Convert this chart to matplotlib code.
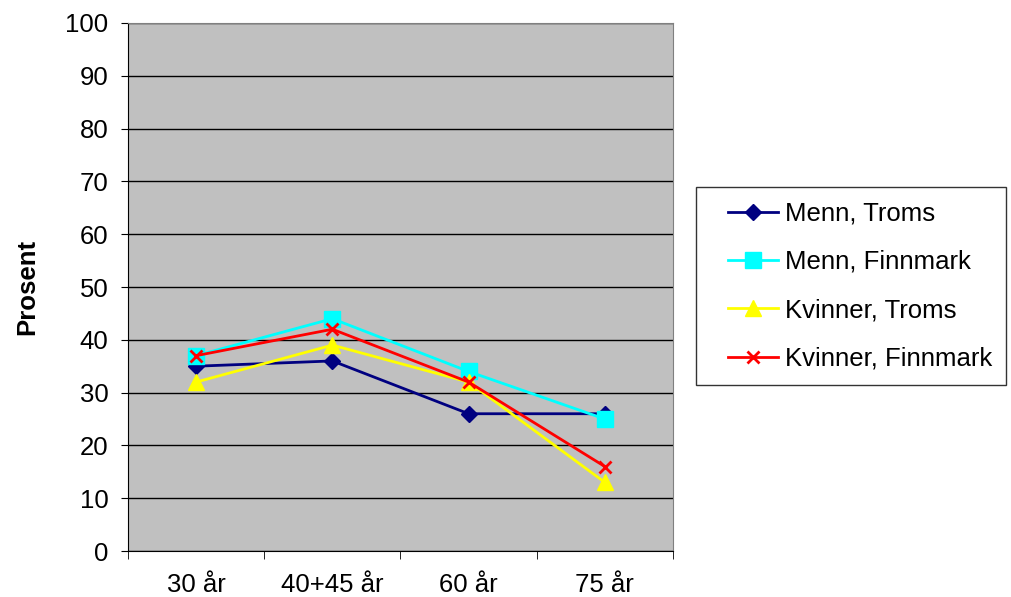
import matplotlib.pyplot as plt
from matplotlib.legend_handler import HandlerLine2D
import numpy as np

plt.rcParams["font.family"] = ["Liberation Sans", "DejaVu Sans"]

age_groups = ["30 år", "40+45 år", "60 år", "75 år"]
menn_troms = [35, 36, 26, 26]
menn_finnmark = [37, 44, 34, 25]
kvinner_troms = [32, 39, 32, 13]
kvinner_finnmark = [37, 42, 32, 16]

series = [
    ("Menn, Troms", menn_troms, "#000080", "D", 8.5),
    ("Menn, Finnmark", menn_finnmark, "#00FFFF", "s", 11),
    ("Kvinner, Troms", kvinner_troms, "#FFFF00", "^", 11),
    ("Kvinner, Finnmark", kvinner_finnmark, "#FF0000", "x", 9),
]


class IndentedLine(HandlerLine2D):
    # legend line drawn with some blank space on its left
    def __init__(self, indent, **kw):
        super().__init__(**kw)
        self.indent = indent

    def create_artists(self, legend, orig_handle, xdescent, ydescent,
                       width, height, fontsize, trans):
        return super().create_artists(legend, orig_handle,
                                      xdescent - self.indent, ydescent,
                                      width - self.indent, height,
                                      fontsize, trans)


fs = 18.5
fig = plt.figure(figsize=(10.12, 5.97), dpi=100)
ax = fig.add_axes([0.1265, 0.077, 0.5385, 0.8845])
ax.set_facecolor("#C0C0C0")

x = np.arange(len(age_groups))
lines = []
for label, vals, color, marker, ms in series:
    ln, = ax.plot(x, vals, color=color, marker=marker, markersize=ms, linewidth=2,
                  markeredgewidth=2 if marker == "x" else 1, label=label, zorder=3)
    lines.append(ln)

ax.set_xlim(-0.5, len(age_groups) - 0.5)
ax.set_ylim(0, 100)
ax.set_yticks(range(0, 101, 10))
ax.set_xticks(x)
ax.set_xticklabels(age_groups)
ax.set_xticks(np.arange(-0.5, len(age_groups), 1), minor=True)
ax.tick_params(axis="x", which="major", length=0, pad=16, labelsize=fs)
ax.tick_params(axis="x", which="minor", length=6, color="black")
ax.tick_params(axis="y", length=5, labelsize=fs, pad=9)
ax.yaxis.grid(True, color="black", linewidth=1)
ax.set_axisbelow(True)

for side in ["top", "right"]:
    ax.spines[side].set_color("#808080")
for side in ["left", "bottom"]:
    ax.spines[side].set_color("black")

ax.set_ylabel("Prosent", fontsize=fs, fontweight="bold", labelpad=19)

indent = 13
leg = fig.legend(handles=lines, loc="upper left", bbox_to_anchor=(0.688, 0.686),
                 fontsize=fs, frameon=True, fancybox=False, edgecolor="black",
                 labelspacing=0.95, handlelength=2.65, borderpad=0.55,
                 handletextpad=0.25, borderaxespad=0,
                 handler_map={ln: IndentedLine(indent) for ln in lines})
leg.get_frame().set_linewidth(1)

fig.savefig("out.png", dpi=100)
